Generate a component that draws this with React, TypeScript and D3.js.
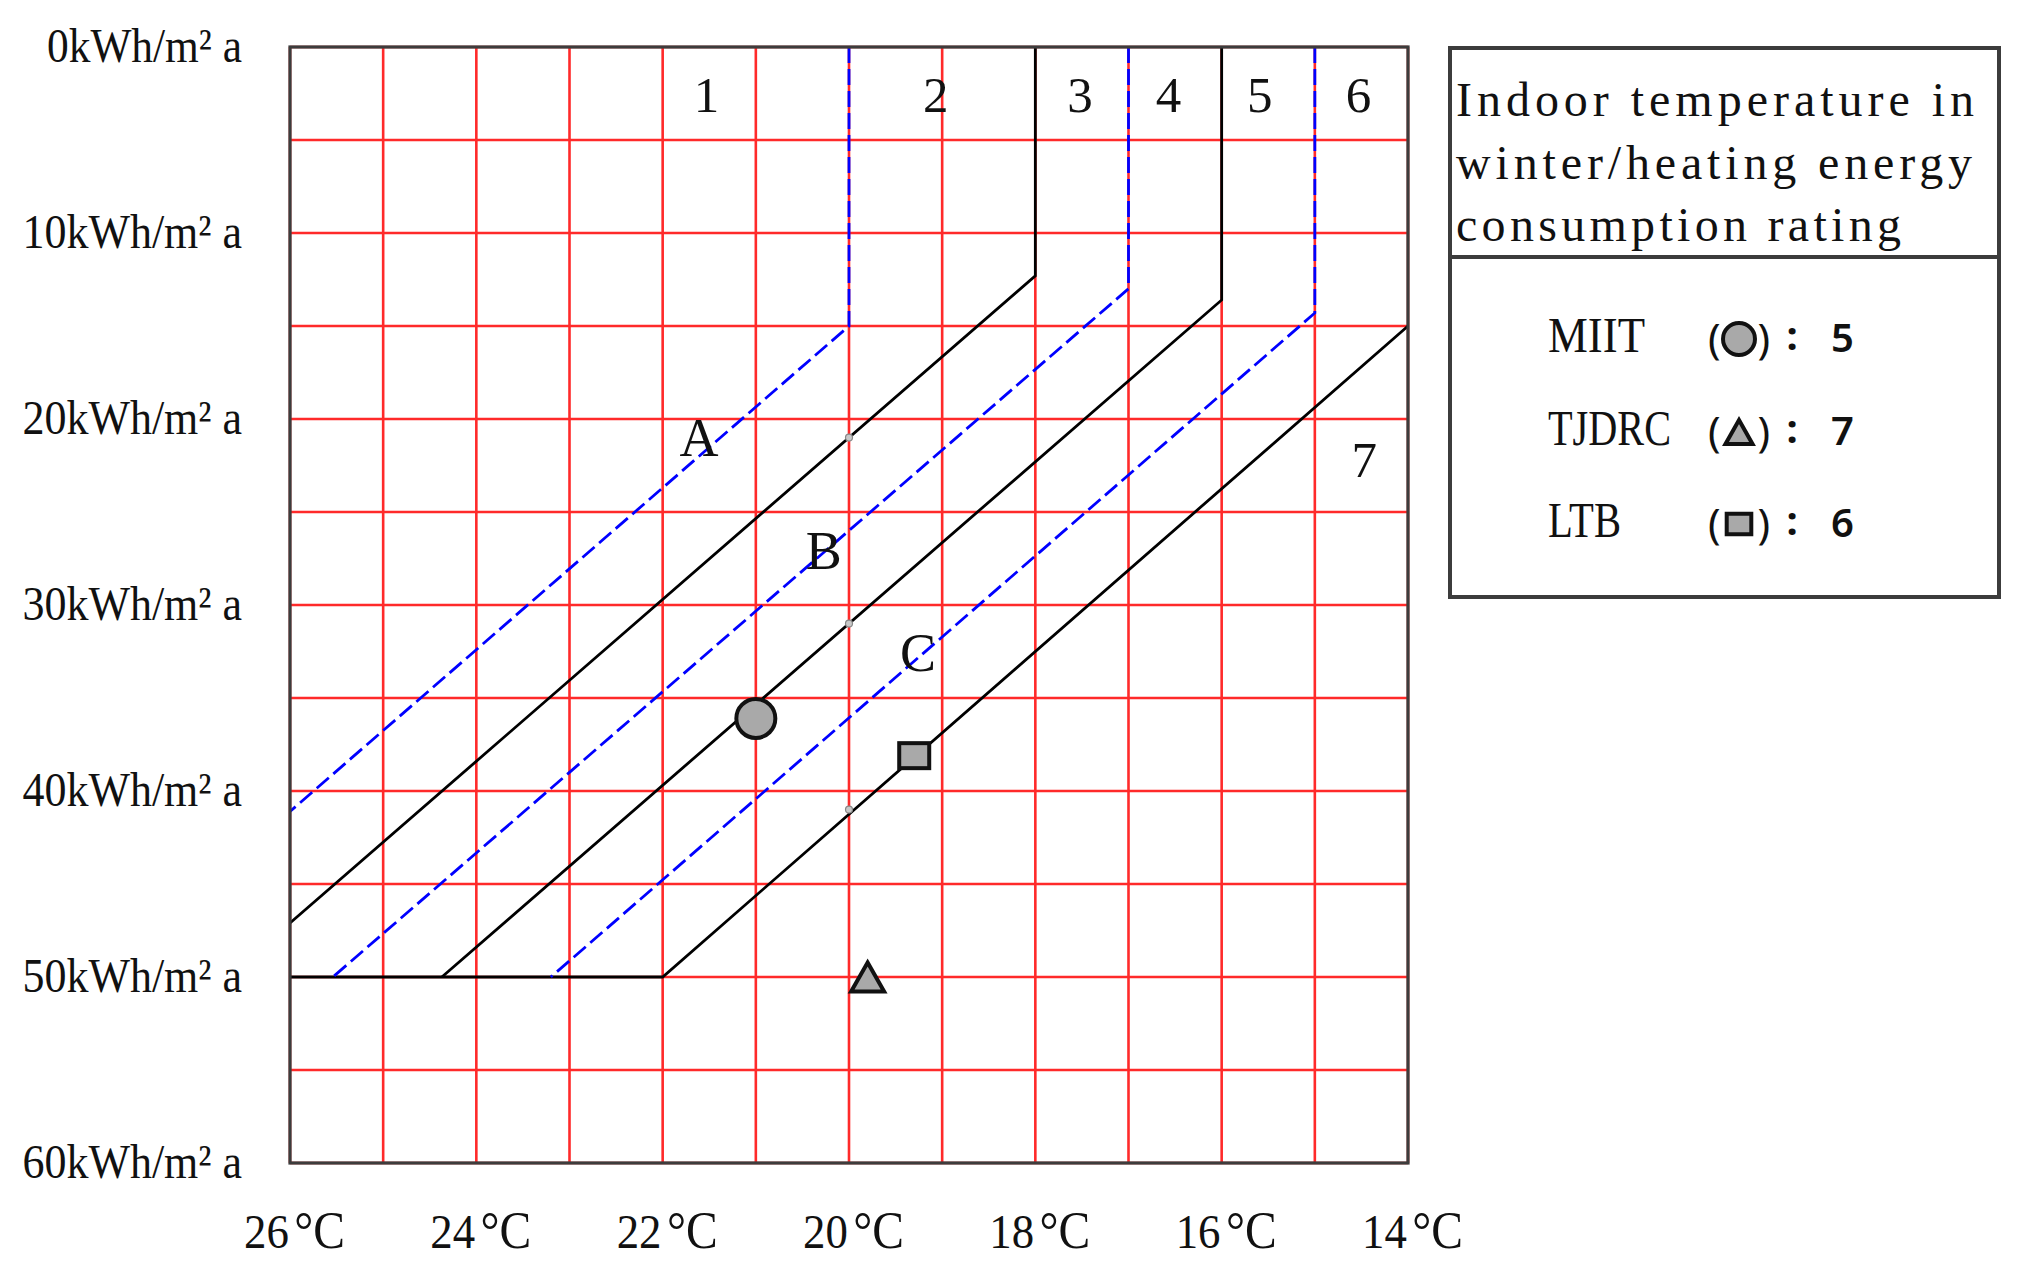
import React, { useRef, useEffect } from "react";
import * as d3 from "d3";

const WIDTH = 2018;
const HEIGHT = 1272;

// axis ticks
const tempTicks = [26, 24, 22, 20, 18, 16, 14];
const energyTicks = [0, 10, 20, 30, 40, 50, 60];

// rating boundaries as [temperature °C, energy kWh/m²a]
const solidBoundaries = [
  [[18, 0], [18, 12.3], [26, 47.1]],
  [[16, 0], [16, 13.6], [24.37, 50]],
  [[26, 50], [22, 50], [14, 15.0]],
];
const dashedBoundaries = [
  [[20, 0], [20, 15], [26, 41.1]],
  [[17, 0], [17, 13.0], [25.54, 50]],
  [[15, 0], [15, 14.3], [23.2, 50]],
];

// zone numbers
const zoneNames = ["1", "2", "3", "4", "5", "6", "7"];
const zoneTemp = [21.53, 19.07, 17.52, 16.57, 15.59, 14.53, 14.47];
const zoneEnergy = [2.6, 2.6, 2.6, 2.6, 2.6, 2.6, 22.2];

// line letters
const lineNames = ["A", "B", "C"];
const lineTemp = [21.61, 20.27, 19.26];
const lineEnergy = [21.0, 27.1, 32.6];

// small check points on the 20°C line
const checkTemp = [20, 20, 20];
const checkEnergy = [21, 31, 41];

// organisations
const orgNames = ["MIIT", "TJDRC", "LTB"];
const orgShapes = ["circle", "triangle", "square"];
const orgTemp = [21.0, 19.8, 19.3];
const orgEnergy = [36.1, 50.0, 38.1];
const orgRating = ["5", "7", "6"];

const legendTitle = ["Indoor temperature in", "winter/heating energy", "consumption rating"];

const SERIF = "'Liberation Serif', 'Times New Roman', serif";
const SANS = "'Noto Sans', 'DejaVu Sans', sans-serif";

function drawMarker(g: any, shape: string, cx: number, cy: number, s: number) {
  const stroke = "#111";
  const fill = "#a9a9a9";
  if (shape === "circle") {
    g.append("circle")
      .attr("cx", cx).attr("cy", cy).attr("r", 19.5 * s)
      .attr("fill", fill).attr("stroke", stroke).attr("stroke-width", 4);
  } else if (shape === "triangle") {
    const b = 33 * s, h = 29 * s;
    g.append("path")
      .attr("d", `M${cx},${cy - h / 2}L${cx + b / 2},${cy + h / 2}L${cx - b / 2},${cy + h / 2}Z`)
      .attr("fill", fill).attr("stroke", stroke).attr("stroke-width", 4)
      .attr("stroke-linejoin", "miter");
  } else {
    const w = 30 * s, h = 25 * s;
    g.append("rect")
      .attr("x", cx - w / 2).attr("y", cy - h / 2)
      .attr("width", w).attr("height", h)
      .attr("fill", fill).attr("stroke", stroke).attr("stroke-width", 4);
  }
}

function RatingChart() {
  const ref = useRef<SVGSVGElement>(null);

  useEffect(() => {
    const svg = d3.select(ref.current);
    svg.selectAll("*").remove();

    const left = 290, right = 1408, top = 47, bottom = 1163;
    const x = d3.scaleLinear().domain([26, 14]).range([left, right]);
    const y = d3.scaleLinear().domain([0, 60]).range([top, bottom]);

    svg.append("rect").attr("width", WIDTH).attr("height", HEIGHT).attr("fill", "#fff");

    // red grid
    const grid = svg.append("g");
    grid.selectAll(".vgrid")
      .data(x.ticks(12))
      .enter()
      .append("line")
      .attr("x1", (d) => x(d)).attr("x2", (d) => x(d))
      .attr("y1", top).attr("y2", bottom)
      .attr("stroke", "#ff2a2a").attr("stroke-width", 2.6);
    grid.selectAll(".hgrid")
      .data(y.ticks(12))
      .enter()
      .append("line")
      .attr("x1", left).attr("x2", right)
      .attr("y1", (d) => y(d)).attr("y2", (d) => y(d))
      .attr("stroke", "#ff2a2a").attr("stroke-width", 2.6);

    const line = d3.line<number[]>().x((d) => x(d[0])).y((d) => y(d[1]));

    svg.selectAll(".solid")
      .data(solidBoundaries)
      .enter()
      .append("path")
      .attr("d", (d) => line(d))
      .attr("fill", "none").attr("stroke", "#000").attr("stroke-width", 2.8);

    svg.selectAll(".dashed")
      .data(dashedBoundaries)
      .enter()
      .append("path")
      .attr("d", (d) => line(d))
      .attr("fill", "none").attr("stroke", "#0000ff").attr("stroke-width", 2.8)
      .attr("stroke-dasharray", "16 6");

    // check points
    svg.selectAll(".check")
      .data(checkTemp)
      .enter()
      .append("circle")
      .attr("cx", (d) => x(d)).attr("cy", (d, i) => y(checkEnergy[i]))
      .attr("r", 3.5).attr("fill", "#c8c8c8").attr("stroke", "#888").attr("stroke-width", 1.2);

    // frame
    svg.append("rect")
      .attr("x", left).attr("y", top).attr("width", right - left).attr("height", bottom - top)
      .attr("fill", "none").attr("stroke", "#3c3c3c").attr("stroke-width", 3.2);

    // zone numbers
    svg.selectAll(".zone")
      .data(zoneNames)
      .enter()
      .append("text")
      .attr("x", (d, i) => x(zoneTemp[i]))
      .attr("y", (d, i) => y(zoneEnergy[i]))
      .attr("text-anchor", "middle").attr("dominant-baseline", "central")
      .attr("font-family", SERIF).attr("font-size", 51).attr("fill", "#111")
      .text((d) => d);

    svg.selectAll(".letter")
      .data(lineNames)
      .enter()
      .append("text")
      .attr("x", (d, i) => x(lineTemp[i]))
      .attr("y", (d, i) => y(lineEnergy[i]))
      .attr("text-anchor", "middle").attr("dominant-baseline", "central")
      .attr("font-family", SERIF).attr("font-size", 54).attr("fill", "#111")
      .text((d) => d);

    // organisation markers
    orgNames.forEach((name, i) => {
      drawMarker(svg, orgShapes[i], x(orgTemp[i]), y(orgEnergy[i]), 1);
    });

    // y axis labels
    const yl = svg.append("g").attr("font-family", SERIF).attr("fill", "#111");
    energyTicks.forEach((e) => {
      const label = `${e}kWh/m² a`;
      const len = (label.length - 3) * 24.5 + 48;
      yl.append("text")
        .attr("x", 242 - len).attr("y", y(e) + 15)
        .attr("font-size", 49)
        .attr("textLength", len).attr("lengthAdjust", "spacingAndGlyphs")
        .text(label);
    });

    // x axis labels
    const xl = svg.append("g").attr("font-family", SERIF).attr("fill", "#111");
    tempTicks.forEach((t) => {
      const cx = x(t) + 4;
      const tx = xl.append("text")
        .attr("x", cx - 50).attr("y", 1248)
        .attr("font-size", 49)
        .attr("textLength", 101).attr("lengthAdjust", "spacingAndGlyphs");
      tx.append("tspan").text(String(t));
      tx.append("tspan").attr("dx", 6).attr("font-size", 52).text("°C");
    });

    // legend box
    const lg = svg.append("g");
    lg.append("rect")
      .attr("x", 1450).attr("y", 48).attr("width", 549).attr("height", 549)
      .attr("fill", "#fff").attr("stroke", "#3c3c3c").attr("stroke-width", 4);
    lg.append("line")
      .attr("x1", 1450).attr("x2", 1999).attr("y1", 257).attr("y2", 257)
      .attr("stroke", "#3c3c3c").attr("stroke-width", 4);

    const titleLen = [518, 516, 445];
    legendTitle.forEach((t, i) => {
      lg.append("text")
        .attr("x", 1456).attr("y", 116 + i * 62.5)
        .attr("font-family", SERIF).attr("font-size", 48).attr("fill", "#111")
        .attr("textLength", titleLen[i]).attr("lengthAdjust", "spacing")
        .text(t);
    });

    const rowBase = [352, 445, 537];
    const nameLen = [97, 123, 73];
    orgNames.forEach((name, i) => {
      const b = rowBase[i];
      lg.append("text")
        .attr("x", 1548).attr("y", b)
        .attr("font-family", SERIF).attr("font-size", 50).attr("fill", "#111")
        .attr("textLength", nameLen[i]).attr("lengthAdjust", "spacingAndGlyphs")
        .text(name);
      lg.append("text")
        .attr("x", 1708).attr("y", b + 2)
        .attr("font-family", SANS).attr("font-size", 42).attr("fill", "#111")
        .text("(");
      lg.append("text")
        .attr("x", 1770).attr("y", b + 2).attr("text-anchor", "end")
        .attr("font-family", SANS).attr("font-size", 42).attr("fill", "#111")
        .text(")");
      drawMarker(lg, orgShapes[i], 1739, b - 13, 0.82);
      lg.append("text")
        .attr("x", 1792).attr("y", b - 2).attr("text-anchor", "middle")
        .attr("font-family", SANS).attr("font-size", 40).attr("font-weight", "bold").attr("fill", "#111")
        .text(":");
      lg.append("text")
        .attr("x", 1831).attr("y", b)
        .attr("font-family", SANS).attr("font-size", 40).attr("font-weight", 600).attr("fill", "#111")
        .text(orgRating[i]);
    });
  }, []);

  return (
    <svg
      ref={ref}
      width={WIDTH}
      height={HEIGHT}
      style={{ position: "absolute", left: 0, top: 0, display: "block" }}
    ></svg>
  );
}

export default function App() {
  return <RatingChart />;
}
